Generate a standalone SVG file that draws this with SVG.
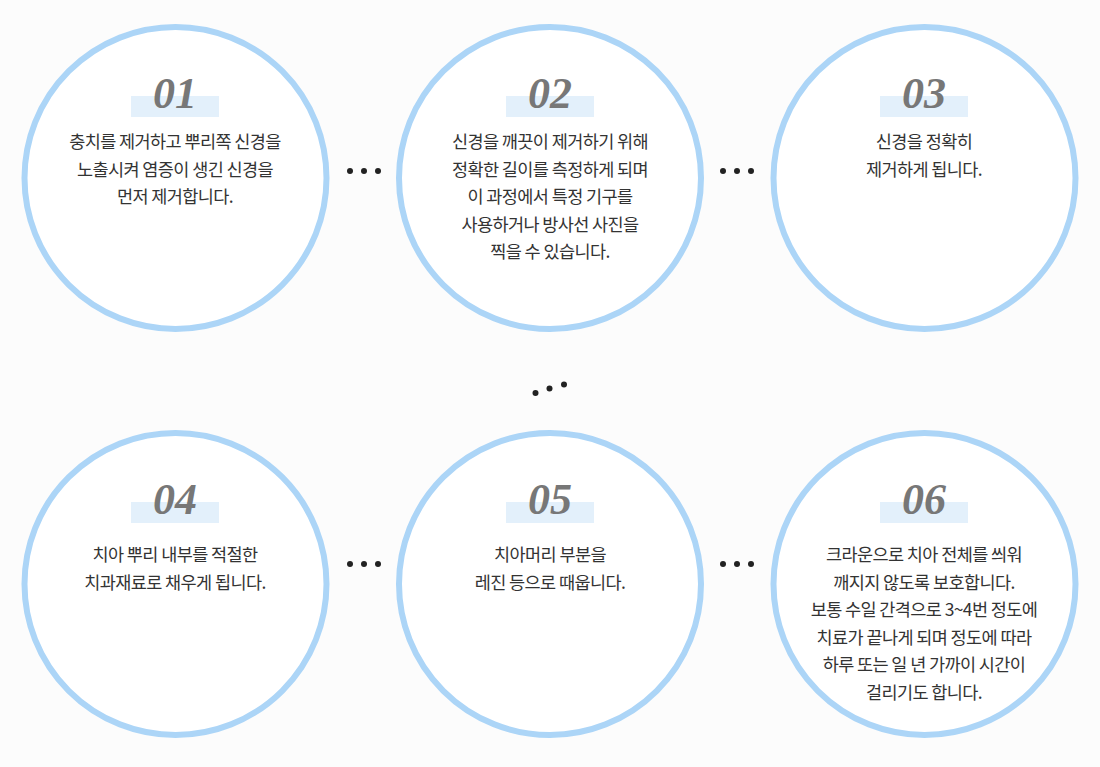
<svg xmlns="http://www.w3.org/2000/svg" width="1100" height="767" viewBox="0 0 1100 767">
<style>
.c{fill:#fff;stroke:#acd5f7;stroke-width:6}
.b{fill:#e3f0fb}
.n{font-family:"Liberation Serif",serif;font-style:italic;font-weight:bold;font-size:44px;fill:#777;text-anchor:middle}
.t{font-family:"Noto Sans CJK KR",sans-serif;font-size:17.5px;fill:#333;text-anchor:middle;letter-spacing:-0.6px}
.d{fill:#222}
</style>
<rect width="1100" height="767" fill="#fcfcfc"/>
<g id="node1"><circle class="c" cx="175.5" cy="178" r="151"/><rect class="b" x="131" y="96" width="88" height="21"/><text class="n" x="175" y="108">01</text>
<text class="t" x="175" y="148">충치를 제거하고 뿌리쪽 신경을</text><text class="t" x="175" y="176">노출시켜 염증이 생긴 신경을</text><text class="t" x="175" y="203">먼저 제거합니다.</text></g>
<g id="node2"><circle class="c" cx="550" cy="178" r="151"/><rect class="b" x="506" y="96" width="88" height="21"/><text class="n" x="550" y="108">02</text>
<text class="t" x="550" y="148">신경을 깨끗이 제거하기 위해</text><text class="t" x="550" y="176">정확한 길이를 측정하게 되며</text><text class="t" x="550" y="203">이 과정에서 특정 기구를</text><text class="t" x="550" y="231">사용하거나 방사선 사진을</text><text class="t" x="550" y="258">찍을 수 있습니다.</text></g>
<g id="node3"><circle class="c" cx="924.5" cy="178" r="151"/><rect class="b" x="880" y="96" width="88" height="21"/><text class="n" x="924" y="108">03</text>
<text class="t" x="924" y="148">신경을 정확히</text><text class="t" x="924" y="176">제거하게 됩니다.</text></g>
<g id="node4"><circle class="c" cx="175.5" cy="584" r="151"/><rect class="b" x="131" y="502" width="88" height="21"/><text class="n" x="175" y="514">04</text>
<text class="t" x="175" y="561">치아 뿌리 내부를 적절한</text><text class="t" x="175" y="589">치과재료로 채우게 됩니다.</text></g>
<g id="node5"><circle class="c" cx="550" cy="584" r="151"/><rect class="b" x="506" y="502" width="88" height="21"/><text class="n" x="550" y="514">05</text>
<text class="t" x="550" y="561">치아머리 부분을</text><text class="t" x="550" y="589">레진 등으로 때웁니다.</text></g>
<g id="node6"><circle class="c" cx="924.5" cy="584" r="151"/><rect class="b" x="880" y="502" width="88" height="21"/><text class="n" x="924" y="514">06</text>
<text class="t" x="924" y="561">크라운으로 치아 전체를 씌워</text><text class="t" x="924" y="589">깨지지 않도록 보호합니다.</text><text class="t" x="924" y="616">보통 수일 간격으로 3~4번 정도에</text><text class="t" x="924" y="644">치료가 끝나게 되며 정도에 따라</text><text class="t" x="924" y="671">하루 또는 일 년 가까이 시간이</text><text class="t" x="924" y="699">걸리기도 합니다.</text></g>
<g id="connectors">
<circle class="d" cx="350" cy="171" r="3"/><circle class="d" cx="364" cy="171" r="3"/><circle class="d" cx="378" cy="171" r="3"/>
<circle class="d" cx="723" cy="171" r="3"/><circle class="d" cx="737" cy="171" r="3"/><circle class="d" cx="751" cy="171" r="3"/>
<circle class="d" cx="535.5" cy="393" r="3"/><circle class="d" cx="549.5" cy="388.5" r="3"/><circle class="d" cx="564" cy="384.5" r="3"/>
<circle class="d" cx="350" cy="564" r="3"/><circle class="d" cx="364" cy="564" r="3"/><circle class="d" cx="378" cy="564" r="3"/>
<circle class="d" cx="723" cy="564" r="3"/><circle class="d" cx="737" cy="564" r="3"/><circle class="d" cx="751" cy="564" r="3"/>
</g>
</svg>
